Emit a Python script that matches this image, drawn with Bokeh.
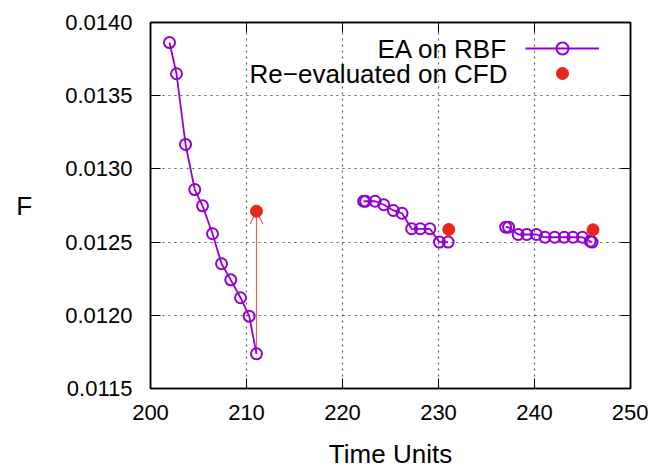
from bokeh.plotting import figure
from bokeh.models import (Range1d, LinearAxis, FixedTicker, PrintfTickFormatter,
                          Arrow, OpenHead, Legend, LegendItem, Label, CustomJSTickFormatter)
from bokeh.embed import file_html
from bokeh.resources import INLINE

# ---- data ----
seg1_x = [201.98, 202.71, 203.65, 204.61, 205.42, 206.46, 207.40, 208.36, 209.38, 210.28, 211.04]
seg1_y = [0.013863, 0.013650, 0.013167, 0.012859, 0.012748, 0.012557, 0.012352, 0.012242, 0.012120, 0.011994, 0.011737]
seg2_x = [222.2, 222.4, 223.4, 224.3, 225.3, 226.2, 227.2, 228.1, 229.1, 230.1, 231.0]
seg2_y = [0.012779, 0.012779, 0.012779, 0.012755, 0.012716, 0.012697, 0.012591, 0.012591, 0.012591, 0.012500, 0.012500]
seg3_x = [237.0, 237.3, 238.3, 239.2, 240.2, 241.1, 242.1, 243.1, 244.0, 245.0, 245.8, 246.0]
seg3_y = [0.012602, 0.012602, 0.012552, 0.012552, 0.012552, 0.012533, 0.012533, 0.012533, 0.012533, 0.012533, 0.012506, 0.012500]
cfd_x = [211.04, 231.07, 246.1]
cfd_y = [0.012711, 0.012586, 0.012584]

x_ticks = [200, 210, 220, 230, 240, 250]
y_ticks = [0.0115, 0.0120, 0.0125, 0.0130, 0.0135, 0.0140]
x_label = "Time Units"
y_label = "F"
legend_labels = ["EA on RBF", "Re\u2212evaluated on CFD"]

PURPLE = "#9400d3"
RED = "#e8251b"
FONT = "Liberation Sans"

p = figure(frame_width=480, frame_height=366, output_backend="svg", toolbar_location=None,
           x_range=Range1d(200, 250), y_range=Range1d(0.0115, 0.0140),
           min_border_left=150, min_border_right=18, min_border_top=22, min_border_bottom=71)
p.background_fill_color = "white"
p.border_fill_color = "white"
p.outline_line_color = "black"
p.outline_line_width = 1.5

for ax in (p.xaxis[0], p.yaxis[0]):
    ax.major_tick_in = 10
    ax.major_tick_out = 0
    ax.minor_tick_line_color = None
    ax.axis_line_color = "black"
    ax.axis_line_width = 1.5
    ax.major_tick_line_color = "black"
    ax.major_label_text_font = FONT
    ax.major_label_text_font_size = "22px"
    ax.major_label_text_color = "black"
    ax.axis_label_text_font = FONT
    ax.axis_label_text_font_size = "26px"
    ax.axis_label_text_font_style = "normal"
    ax.axis_label_text_color = "black"

p.xaxis.ticker = FixedTicker(ticks=x_ticks)
p.yaxis.ticker = FixedTicker(ticks=y_ticks)
p.yaxis.formatter = PrintfTickFormatter(format="%.4f")
p.xaxis.axis_label = x_label
p.yaxis.axis_label = y_label
p.yaxis.axis_label_orientation = "horizontal"
p.xaxis.major_label_standoff = 16
p.yaxis.major_label_standoff = 18
p.xaxis.axis_label_standoff = 16
p.yaxis.axis_label_standoff = 30

# mirror axes (ticks only)
for side in ("above", "right"):
    ax = LinearAxis(ticker=FixedTicker(ticks=x_ticks if side == "above" else y_ticks),
                    formatter=CustomJSTickFormatter(code="return '';"))
    ax.major_tick_in = 10
    ax.major_tick_out = 0
    ax.minor_tick_line_color = None
    ax.major_label_standoff = 0
    ax.axis_line_color = "black"
    ax.axis_line_width = 1.5
    ax.major_tick_line_color = "black"
    p.add_layout(ax, side)

p.xgrid.ticker = FixedTicker(ticks=x_ticks[1:-1])
p.ygrid.ticker = FixedTicker(ticks=y_ticks[1:-1])
p.grid.grid_line_color = "#606060"
p.grid.grid_line_dash = "2 4"
p.grid.grid_line_width = 1.2

arrow = Arrow(end=OpenHead(size=13, line_color="#f0604f", line_width=1.2),
              x_start=seg1_x[-1], y_start=seg1_y[-1], x_end=cfd_x[0], y_end=cfd_y[0],
              line_color="#f0604f", line_width=1.2, level="underlay")
p.add_layout(arrow)

line_rs = []
pt_rs = []
for xs, ys in ((seg1_x, seg1_y), (seg2_x, seg2_y), (seg3_x, seg3_y)):
    line_rs.append(p.line(xs, ys, line_color=PURPLE, line_width=1.8))
    pt_rs.append(p.scatter(xs, ys, marker="circle", size=11, fill_color=None,
                           line_color=PURPLE, line_width=2))
cfd_r = p.scatter(cfd_x, cfd_y, marker="circle", size=12, fill_color=RED, line_color=RED)

legend_renderers = [[line_rs[0], pt_rs[0]], [cfd_r]]
for i, rs in enumerate(legend_renderers):
    lg = Legend(items=[LegendItem(label=" ", renderers=rs)],
                location=(375, 325 - 25 * i), padding=0, margin=0, spacing=0,
                glyph_width=74, glyph_height=30, label_standoff=0, label_width=1,
                border_line_color=None, background_fill_alpha=0,
                label_text_font_size="10px")
    p.add_layout(lg)

for i, txt in enumerate(legend_labels):
    p.add_layout(Label(x=357, y=340 - 25 * i, x_units="screen", y_units="screen",
                       text=txt, text_align="right", text_baseline="middle",
                       text_font=FONT, text_font_size="26px", text_color="black"))

open("out.html", "w").write(file_html(p, INLINE))
